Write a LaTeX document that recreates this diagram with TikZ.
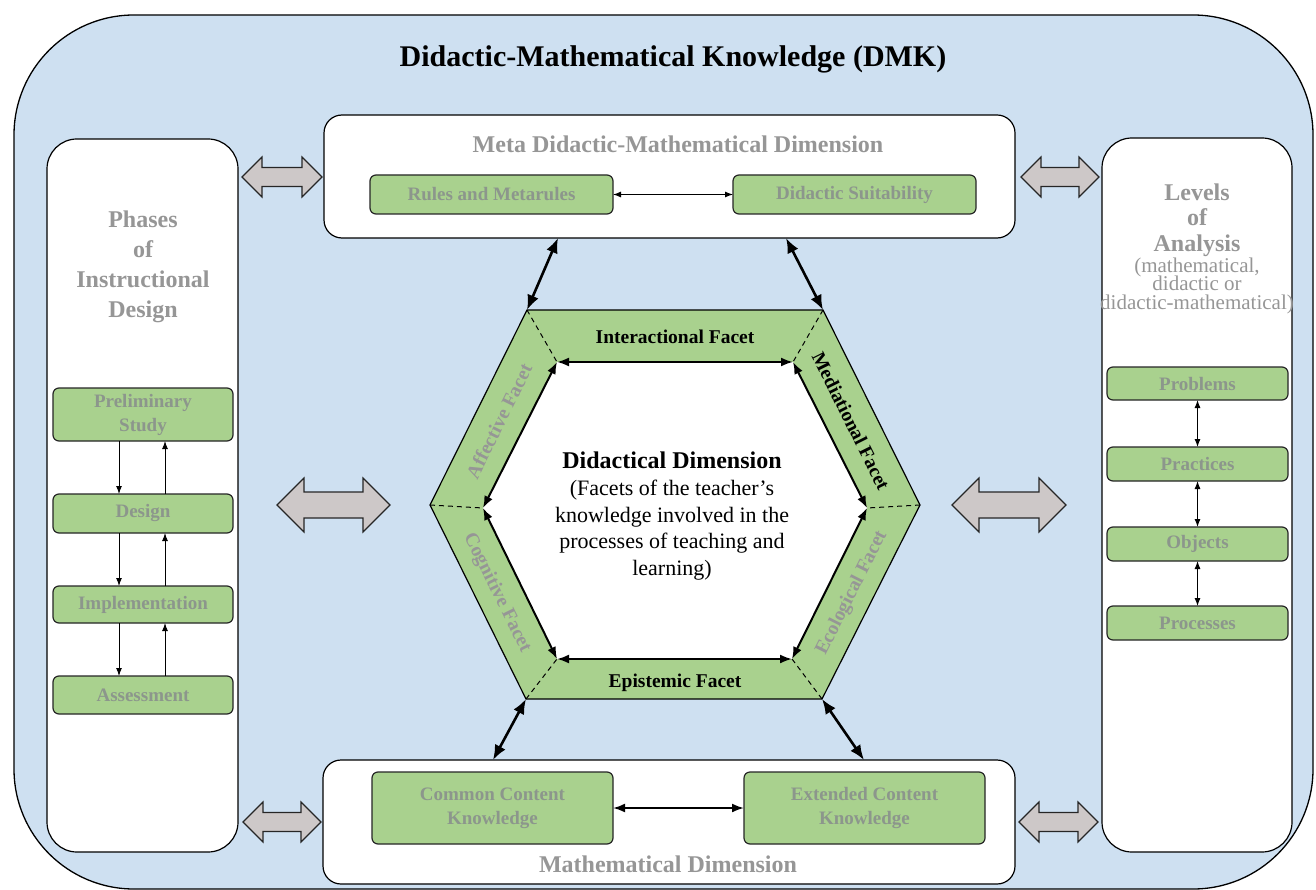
\documentclass[tikz,border=0pt]{standalone}
\usepackage{fontspec}
\setmainfont{Liberation Serif}
\usetikzlibrary{arrows.meta}
\definecolor{bgblue}{RGB}{206,224,241}
\definecolor{boxgreen}{RGB}{169,209,142}
\definecolor{greytext}{RGB}{150,150,150}
\definecolor{boxtext}{RGB}{140,150,140}
\definecolor{fatgrey}{RGB}{205,200,200}
\newcommand\fatarrow[6]{%
  \draw[fatstyle] (#1,#3) -- (#1+#6,#3-#4) -- (#1+#6,#3-#5) -- (#2-#6,#3-#5) -- (#2-#6,#3-#4) -- (#2,#3)
    -- (#2-#6,#3+#4) -- (#2-#6,#3+#5) -- (#1+#6,#3+#5) -- (#1+#6,#3+#4) -- cycle;}
\tikzset{
  panel/.style={draw=black, line width=1.2pt, fill=white, rounded corners=30pt, inner sep=0pt, outer sep=0pt},
  dimbox/.style={draw=black, line width=1.2pt, fill=white, rounded corners=18pt, inner sep=0pt, outer sep=0pt},
  gbox/.style={draw=black!85, line width=1.2pt, fill=boxgreen, rounded corners=6pt, inner sep=0pt, outer sep=0pt,
    text=boxtext, font=\fontsize{19}{24}\selectfont\bfseries, align=center},
  hdr/.style={text=greytext, font=\fontsize{24}{29}\selectfont\bfseries, inner sep=0pt, anchor=base},
  sub/.style={text=greytext, font=\fontsize{21}{18}\selectfont, inner sep=0pt, anchor=base},
  ctr/.style={text=black, font=\fontsize{22}{27}\selectfont, inner sep=0pt, anchor=base},
  facet/.style={font=\fontsize{19.5}{23}\selectfont\bfseries, inner sep=0pt},
  gfacet/.style={facet, text=greytext},
  thinarr/.style={line width=1pt, -{Latex[length=8pt,width=6pt]}},
  thinbi/.style={line width=1pt, {Latex[length=8pt,width=6pt]}-{Latex[length=8pt,width=6pt]}},
  thickbi/.style={line width=2.6pt, {Latex[length=15pt,width=12pt]}-{Latex[length=15pt,width=12pt]}},
  hexbi/.style={line width=2pt, {Latex[length=12pt,width=9pt]}-{Latex[length=12pt,width=9pt]}},
  fatstyle/.style={draw=black!85, line width=1.2pt, fill=fatgrey},
  dashln/.style={dashed, dash pattern=on 5pt off 4pt, line width=1pt}
}
\begin{document}
\begin{tikzpicture}[x=1pt,y=-1pt]
\useasboundingbox (0,0) rectangle (1316,890);
\fill[white] (0,0) rectangle (1316,890);
% outer frame
\draw[line width=1.3pt, fill=bgblue, rounded corners=120pt] (14,15) rectangle (1313,889);
\node[font=\fontsize{30}{36}\selectfont\bfseries, inner sep=0pt, anchor=base] (title) at (673,67) {Didactic-Mathematical Knowledge (DMK)};

% side panels
\node[panel, minimum width=191pt, minimum height=713pt] (left) at (142.5,495.5) {};
\node[panel, minimum width=190pt, minimum height=714pt] (right) at (1197,495) {};
% dimension boxes
\node[dimbox, minimum width=691pt, minimum height=123pt] (meta) at (669.5,176.5) {};
\node[dimbox, minimum width=692pt, minimum height=124pt] (math) at (669,822) {};

% fat arrows
\fatarrow{242}{322}{177}{20}{9.5}{20}
\fatarrow{1021}{1099}{177}{20}{9.5}{20}
\fatarrow{243}{321}{822}{20}{9.5}{20}
\fatarrow{1019}{1098}{822}{20}{9.5}{20}
\fatarrow{277}{390}{505}{27}{13}{27}
\fatarrow{952}{1066}{505}{27}{13}{27}

% meta box content
\node[hdr] (metalbl) at (678,153) {Meta Didactic-Mathematical Dimension};
\node[gbox, minimum width=243pt, minimum height=39pt] (rules) at (491.5,194.5) {Rules and Metarules};
\node[gbox, minimum width=243pt, minimum height=39pt] (suit) at (854.5,194.5) {Didactic Suitability};
\draw[thinbi] (rules.east) -- (suit.west);

% math box content
\node[hdr] (mathlbl) at (668,872) {Mathematical Dimension};
\node[gbox, minimum width=241pt, minimum height=72pt] (cck) at (492.5,808) {Common Content\\Knowledge};
\node[gbox, minimum width=241pt, minimum height=72pt] (eck) at (864.5,808) {Extended Content\\Knowledge};
\draw[hexbi] (cck.east) -- (eck.west);

% left panel content
\node[hdr] (ph1) at (143,228) {Phases};
\node[hdr] (ph2) at (143,258) {of};
\node[hdr] (ph3) at (143,288) {Instructional};
\node[hdr] (ph4) at (143,317) {Design};
\node[gbox, minimum width=180pt, minimum height=53pt] (prelim) at (143,414.5) {Preliminary\\Study};
\node[gbox, minimum width=180pt, minimum height=39pt] (design) at (143,513.5) {Design};
\node[gbox, minimum width=180pt, minimum height=37pt] (impl) at (143,604.5) {Implementation};
\node[gbox, minimum width=180pt, minimum height=38pt] (assess) at (143,695) {Assessment};
\coordinate (dn) at (119,0);
\coordinate (up) at (165,0);
\draw[thinarr] (prelim.south -| dn) -- (design.north -| dn);
\draw[thinarr] (design.north -| up) -- (prelim.south -| up);
\draw[thinarr] (design.south -| dn) -- (impl.north -| dn);
\draw[thinarr] (impl.north -| up) -- (design.south -| up);
\draw[thinarr] (impl.south -| dn) -- (assess.north -| dn);
\draw[thinarr] (assess.north -| up) -- (impl.south -| up);

% right panel content
\node[hdr] (lv1) at (1197,201) {Levels};
\node[hdr] (lv2) at (1197,226) {of};
\node[hdr] (lv3) at (1197,252) {Analysis};
\node[sub] (lv4) at (1197,273) {(mathematical,};
\node[sub] (lv5) at (1197,291) {didactic or};
\node[sub] (lv6) at (1197,310) {didactic-mathematical)};
\node[gbox, minimum width=181pt, minimum height=33pt] (problems) at (1197.5,383.5) {Problems};
\node[gbox, minimum width=181pt, minimum height=34pt] (practices) at (1197.5,464) {Practices};
\node[gbox, minimum width=181pt, minimum height=34pt] (objects) at (1197.5,544) {Objects};
\node[gbox, minimum width=181pt, minimum height=34pt] (processes) at (1197.5,623) {Processes};
\draw[thinbi] (problems.south) -- (practices.north);
\draw[thinbi] (practices.south) -- (objects.north);
\draw[thinbi] (objects.south) -- (processes.north);

% hexagon
\coordinate (O1) at (527,310); \coordinate (O2) at (823,310); \coordinate (O3) at (920,505);
\coordinate (O4) at (822,699); \coordinate (O5) at (526,699); \coordinate (O6) at (430,505);
\coordinate (I1) at (557,362); \coordinate (I2) at (793,362); \coordinate (I3) at (867,508);
\coordinate (I4) at (792,659); \coordinate (I5) at (557,659); \coordinate (I6) at (483,508);
\draw[line width=1.2pt, fill=boxgreen] (O1) -- (O2) -- (O3) -- (O4) -- (O5) -- (O6) -- cycle;
\fill[white] (I1) -- (I2) -- (I3) -- (I4) -- (I5) -- (I6) -- cycle;
\draw[dashln] (O1) -- (I1); \draw[dashln] (O2) -- (I2); \draw[dashln] (O3) -- (I3);
\draw[dashln] (O4) -- (I4); \draw[dashln] (O5) -- (I5); \draw[dashln] (O6) -- (I6);
\draw[hexbi] (I1) -- (I2);
\draw[hexbi] (I2) -- (I3);
\draw[hexbi] (I3) -- (I4);
\draw[hexbi] (I4) -- (I5);
\draw[hexbi] (I5) -- (I6);
\draw[hexbi] (I6) -- (I1);

% facet labels
\node[facet, anchor=base] (interf) at (675,343) {Interactional Facet};
\node[facet, anchor=base] (epif) at (675,687) {Epistemic Facet};
\node[facet, rotate=-63.5] (medf) at (851,421) {Mediational Facet};
\node[gfacet, rotate=63.6] (afff) at (499,421) {Affective Facet};
\node[gfacet, rotate=-63.7] (cogf) at (497,593) {Cognitive Facet};
\node[gfacet, rotate=63.2] (ecof) at (852,593) {Ecological Facet};

% center text
\node[font=\fontsize{24}{29}\selectfont\bfseries, inner sep=0pt, anchor=base] (dd) at (672,468) {Didactical Dimension};
\node[ctr] (c1) at (672,495) {(Facets of the teacher’s};
\node[ctr] (c2) at (672,522) {knowledge involved in the};
\node[ctr] (c3) at (672,548) {processes of teaching and};
\node[ctr] (c4) at (672,575) {learning)};

% connectors between dimension boxes and hexagon
\coordinate (m1) at (558,238); \coordinate (m2) at (786,238);
\coordinate (b1) at (493,760); \coordinate (b2) at (864,760);
\draw[thickbi] (m1) -- (O1);
\draw[thickbi] (m2) -- (O2);
\draw[thickbi] (O5) -- (b1);
\draw[thickbi] (O4) -- (b2);
\end{tikzpicture}
\end{document}
